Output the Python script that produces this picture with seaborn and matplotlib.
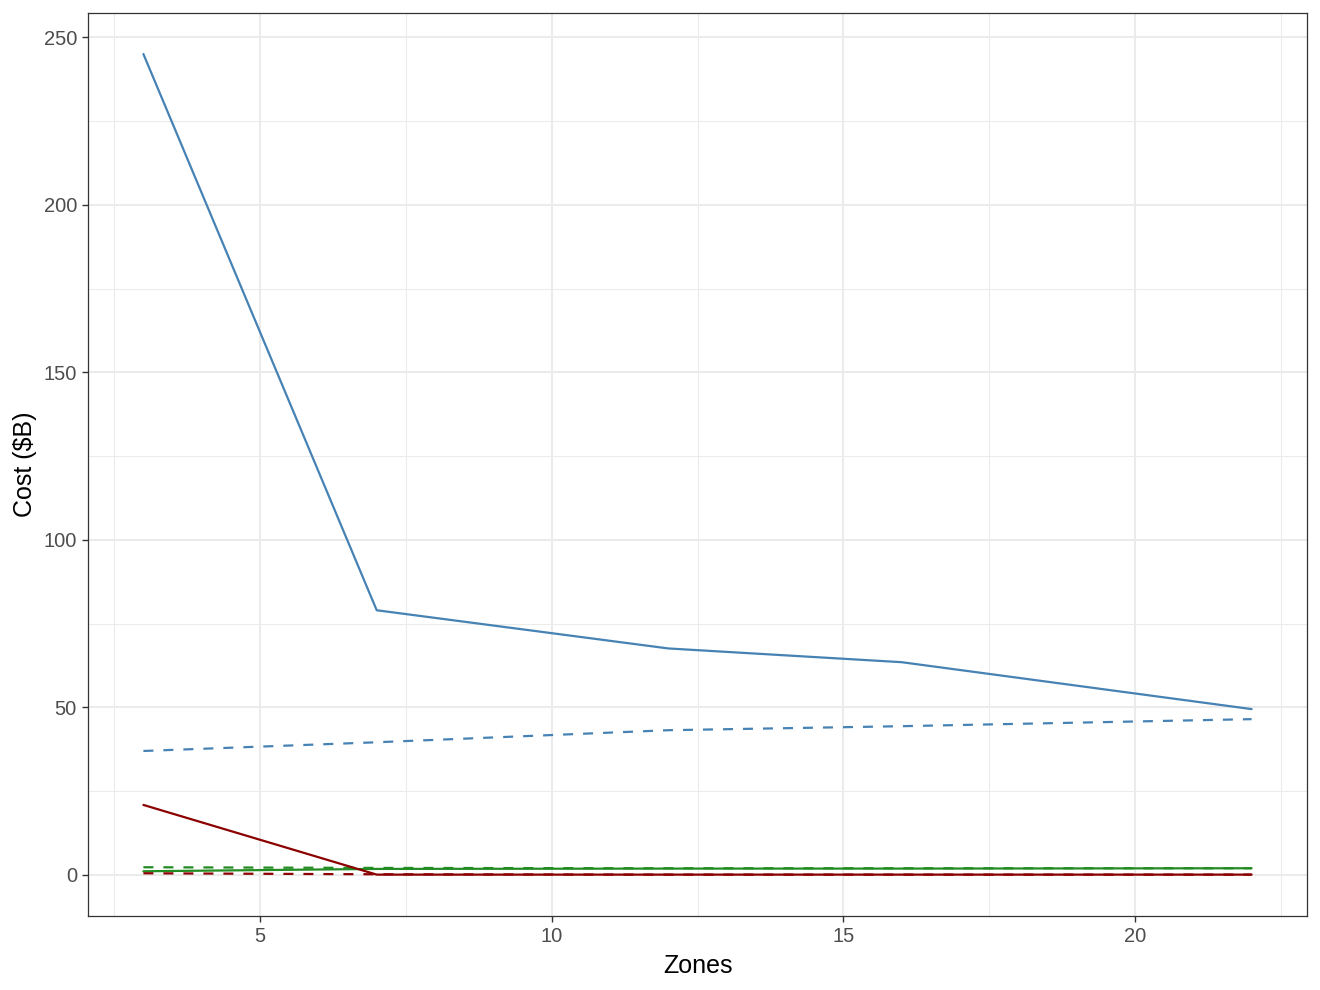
import matplotlib
matplotlib.use("Agg")
import matplotlib.pyplot as plt
import seaborn as sns
import pandas as pd
from matplotlib.ticker import MultipleLocator

# ---- data ----
zones = [3, 7, 12, 16, 22]
blue_solid = [245, 79, 67.6, 63.5, 49.5]
blue_dashed = [37, 39.6, 43.2, 44.4, 46.5]
red_solid = [20.9, 0.1, 0.1, 0.1, 0.1]
red_dashed = [0.5, 0.2, 0.1, 0.1, 0.1]
green_solid = [1.1, 1.8, 1.9, 1.9, 2.0]
green_dashed = [2.3, 2.1, 2.0, 2.0, 2.0]

series = [
    ("blue_solid", blue_solid, "#4682B4", "solid"),
    ("blue_dashed", blue_dashed, "#4682B4", "dashed"),
    ("green_solid", green_solid, "#228B22", "solid"),
    ("green_dashed", green_dashed, "#228B22", "dashed"),
    ("red_solid", red_solid, "#8B0000", "solid"),
    ("red_dashed", red_dashed, "#8B0000", "dashed"),
]

sns.set_theme(style="white")
plt.rcParams["font.family"] = ["Liberation Sans", "DejaVu Sans"]

fig = plt.figure(figsize=(13.2, 9.9), dpi=100)
ax = fig.add_axes([88 / 1320, (990 - 916) / 990, (1307 - 88) / 1320, (916 - 13) / 990])

lw = 1.6
for name, vals, col, ls in series:
    df = pd.DataFrame({"Zones": zones, "Cost": vals})
    line_ls = "-" if ls == "solid" else (0, (4.5, 4.5))
    sns.lineplot(data=df, x="Zones", y="Cost", ax=ax, color=col,
                 linewidth=lw, linestyle=line_ls, zorder=3)

ax.set_xlim(2.05, 22.95)
ax.set_ylim(-12.25, 257.25)
ax.xaxis.set_major_locator(MultipleLocator(5))
ax.xaxis.set_minor_locator(MultipleLocator(2.5))
ax.yaxis.set_major_locator(MultipleLocator(50))
ax.yaxis.set_minor_locator(MultipleLocator(25))

ax.set_facecolor("white")
ax.grid(True, which="major", color="#EBEBEB", linewidth=1.5, zorder=0)
ax.grid(True, which="minor", color="#EBEBEB", linewidth=0.75, zorder=0)
ax.set_axisbelow(True)

for s in ax.spines.values():
    s.set_color("#333333")
    s.set_linewidth(0.9)

ax.tick_params(axis="both", which="major", length=4.5, width=1.0, color="#333333",
               labelcolor="#4D4D4D", labelsize=14.5, pad=3.5, direction="out",
               bottom=True, left=True)
ax.tick_params(axis="both", which="minor", length=0)

ax.set_xlabel("Zones", fontsize=18, color="black", labelpad=6)
ax.set_ylabel("Cost ($B)", fontsize=18, color="black", labelpad=4.5)

fig.savefig("out.png", dpi=100)
